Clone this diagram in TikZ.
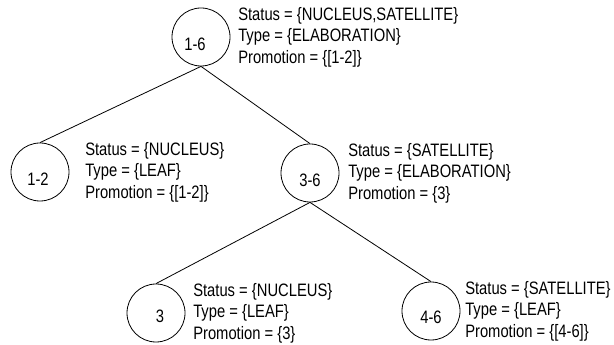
\documentclass[tikz,border=0pt]{standalone}
\usepackage{fontspec}
\setmainfont[FakeStretch=0.82]{Liberation Sans}

\begin{document}
\begin{tikzpicture}[x=0.75pt,y=-0.75pt,font=\fontsize{13.5}{16.1}\selectfont,
  tnode/.style={draw,circle,line width=0.6pt,minimum size=43.5pt,inner sep=0pt},
  info/.style={anchor=west,align=left,inner sep=0pt}]
  \useasboundingbox (0,0) rectangle (614,345);
  % tree nodes: name/x/y/label/label shift
  \foreach \n/\x/\y/\t/\dx/\dy in {n16/201/37/1-6/-6/7, n12/40/172/1-2/-2/7, n36/310/173/3-6/0/7,
                                    n3/156/313/3/4/3, n46/431/311/4-6/0/6}{
    \node[tnode] (\n) at (\x,\y) {};
    \node (l\n) at ([shift={(\dx,\dy)}]\n.center) {\t};
  }
  \draw[line width=0.6pt] (n16.south) -- (n12.north);
  \draw[line width=0.6pt] (n16.south) -- (n36.north);
  \draw[line width=0.6pt] (n36.south) -- (n3.north);
  \draw[line width=0.6pt] (n36.south) -- (n46.north);
  % attribute lists
  \node[info] (a16) at (238,37) {Status = \{NUCLEUS,SATELLITE\}\\Type = \{ELABORATION\}\\Promotion = \{[1-2]\}};
  \node[info] (a12) at (85,172) {Status = \{NUCLEUS\}\\Type = \{LEAF\}\\Promotion = \{[1-2]\}};
  \node[info] (a36) at (348,173) {Status = \{SATELLITE\}\\Type = \{ELABORATION\}\\Promotion = \{3\}};
  \node[info] (a3) at (193,313) {Status = \{NUCLEUS\}\\Type = \{LEAF\}\\Promotion = \{3\}};
  \node[info] (a46) at (465,311) {Status = \{SATELLITE\}\\Type = \{LEAF\}\\Promotion = \{[4-6]\}};
\end{tikzpicture}
\end{document}
